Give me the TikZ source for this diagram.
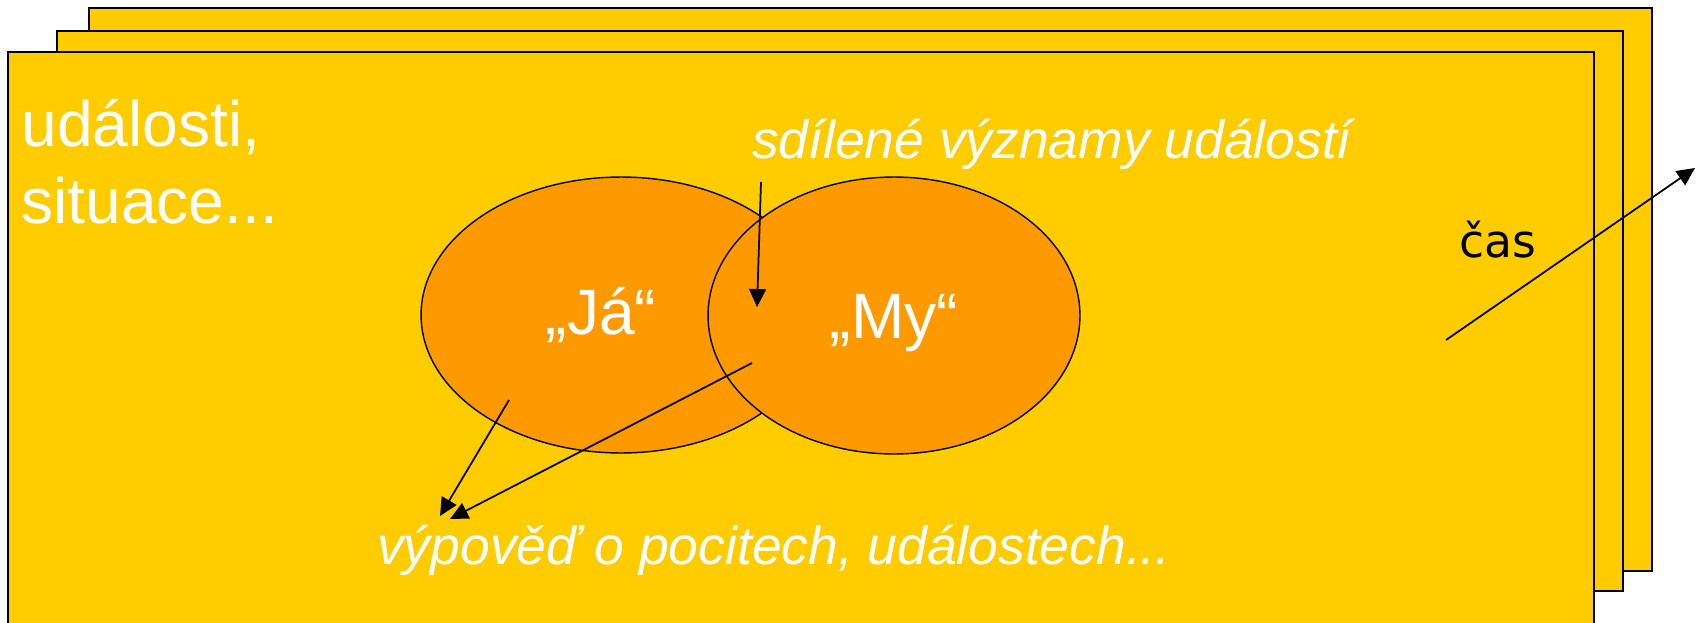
\documentclass[tikz,border=0pt]{standalone}
\usepackage{fontspec}
\setmainfont{Liberation Sans}
\newfontfamily\casfont{DejaVu Sans}
\usetikzlibrary{arrows.meta,shapes.geometric,positioning}
\definecolor{sheetyellow}{HTML}{FFCC00}
\definecolor{selforange}{HTML}{FF9900}

\begin{document}
\begin{tikzpicture}[x=0.02cm,y=-0.02cm,
    sheet/.style={draw=black,fill=sheetyellow,line width=0.9pt},
    self/.style={ellipse,draw=black,fill=selforange,line width=0.8pt,inner sep=0},
    whitetext/.style={text=white,inner sep=0,font=\fontsize{36.5}{42}\selectfont},
    note/.style={text=white,inner sep=0,font=\fontsize{30.4}{36}\selectfont\itshape},
    every edge/.append style={-{Triangle[length=0.36cm,width=0.34cm]},line width=1pt}]
  \useasboundingbox (0,0) rectangle (1703,622);
  \clip (0,0) rectangle (1703,622);

  % stacked sheets, back to front
  \draw[sheet] (89,8) rectangle (1652,571);
  \draw[sheet] (57,31) rectangle (1623,591);
  \draw[sheet] (8,52) rectangle (1594,640);

  \node[whitetext,anchor=base west] (events1) at (21,146) {události,};
  \node[whitetext,anchor=base west] (events2) at (21,223) {situace...};

  % the two selves
  \node[self,minimum width=8cm,minimum height=5.52cm] (ja) at (621,315) {};
  \node[self,minimum width=7.44cm,minimum height=5.54cm] (my) at (894,315.5) {};
  \node[whitetext,anchor=base] (jatext) at (601,334) {„Já“};
  \node[whitetext,anchor=base] (mytext) at (894,338) {„My“};

  \node[note,anchor=base] (shared) at (1052,158) {sdílené významy událostí};
  \node[note,anchor=base] (speech) at (774,564) {výpověď o pocitech, událostech...};
  \node[anchor=base west,inner sep=0,font=\casfont\fontsize{26}{30}\selectfont]
    (time) at (1459,257) {čas};

  % arrows
  \coordinate (sharedtail) at (761,182);
  \coordinate (overlap) at (757,307);
  \coordinate (jatail) at (509,400);
  \coordinate (speechtip1) at (440,516);
  \coordinate (mytail) at (752,363);
  \coordinate (speechtip2) at (450,519);
  \coordinate (timetail) at (1446,340);
  \coordinate (timetip) at (1695,168);

  \draw (sharedtail) edge (overlap);
  \draw (jatail) edge (speechtip1);
  \draw (mytail) edge (speechtip2);
  \draw (timetail) edge (timetip);
\end{tikzpicture}
\end{document}
